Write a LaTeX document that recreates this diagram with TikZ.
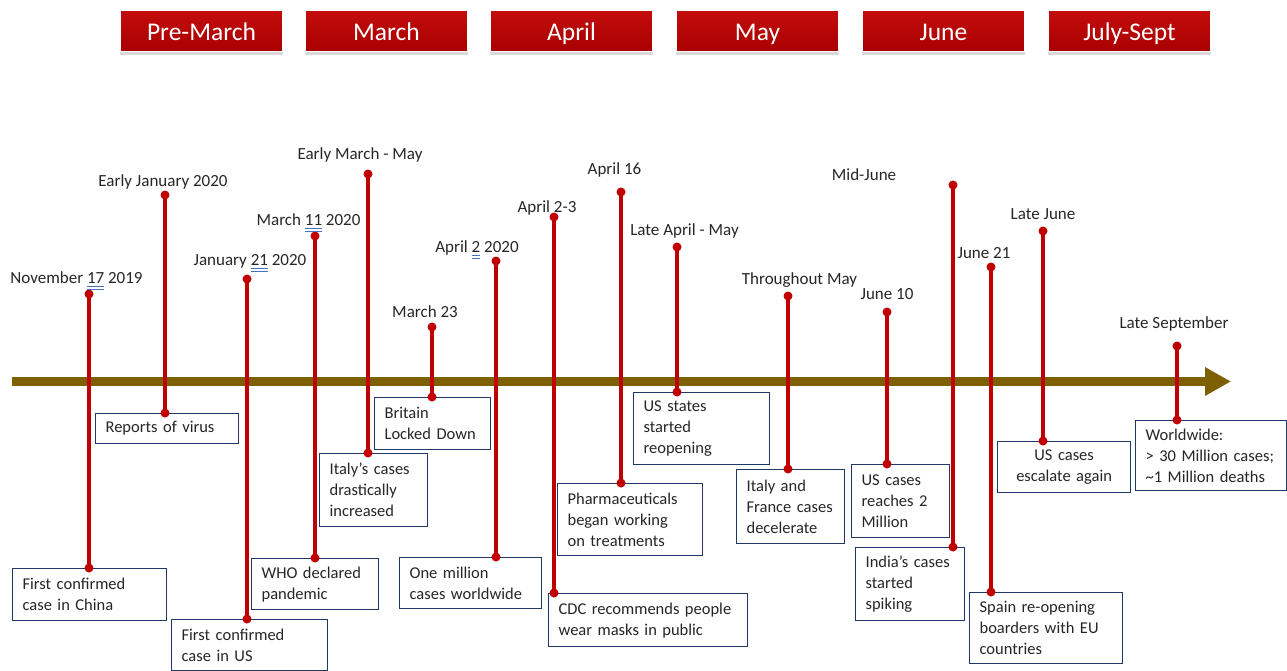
\documentclass[tikz,border=0pt]{standalone}
\usepackage{fontspec}
\setmainfont{Carlito}
\usetikzlibrary{arrows.meta,shadows}

\definecolor{stemred}{HTML}{C00000}
\definecolor{axisbrown}{HTML}{7F6000}
\definecolor{boxblue}{HTML}{203864}
\definecolor{txtgray}{HTML}{262626}
\definecolor{ulblue}{HTML}{4472C4}

% blue double underline under a word
\newsavebox\markbox
\newcommand\spellmark[1]{\sbox\markbox{#1}%
  \rlap{\smash{\color{ulblue}\rule[-3.9pt]{\wd\markbox}{1pt}}}%
  \rlap{\smash{\color{ulblue}\rule[-7.1pt]{\wd\markbox}{1pt}}}%
  \usebox\markbox}

\begin{document}
\begin{tikzpicture}[x=1pt,y=-1pt,
  month/.style={draw=white, line width=1.5pt, top color=stemred!95!white, bottom color=stemred!88!black,
    text=white, font=\fontsize{25.5}{30}\selectfont, minimum width=163pt, minimum height=41pt, inner sep=0pt,
    text height=20pt, text depth=2pt,
    drop shadow={shadow xshift=0pt, shadow yshift=-3pt, opacity=0.3}},
  evbox/.style={draw=boxblue, line width=1.2pt, fill=white, text=txtgray, anchor=north west,
    align=left, inner xsep=10pt, inner ysep=0pt, font=\fontsize{16.5}{21}\selectfont},
  datelabel/.style={text=txtgray, anchor=base, inner sep=0pt, font=\fontsize{17}{20}\selectfont},
  stem/.style={draw=stemred, line width=4pt},
  dot/.style={fill=stemred},
  axisline/.style={draw=axisbrown, line width=9pt, -{Triangle[length=26pt,width=27pt]}}]

\useasboundingbox (0,0) rectangle (1287,670);

% month headers
\node[month] (m1) at (201.5,31) {Pre-March};
\node[month] (m2) at (386.5,31) {March};
\node[month] (m3) at (571.5,31) {April};
\node[month] (m4) at (757.5,31) {May};
\node[month] (m5) at (943.5,31) {June};
\node[month] (m6) at (1129.5,31) {July-Sept};

% time axis
\coordinate (axstart) at (12,381.5);
\coordinate (axend) at (1231,381.5);
\draw[axisline] (axstart) -- (axend);

% event boxes
\node[evbox, minimum width=154pt, minimum height=52pt, text width=134pt] (b1) at (12,568) {First confirmed\\case in China};
\node[evbox, minimum width=143pt, minimum height=30pt, text width=123pt] (b2) at (95,413) {Reports of virus};
\node[evbox, minimum width=156pt, minimum height=51pt, text width=136pt] (b3) at (171,619) {First confirmed\\case in US};
\node[evbox, minimum width=127pt, minimum height=51pt, text width=107pt] (b4) at (251,558) {WHO declared\\pandemic};
\node[evbox, minimum width=108pt, minimum height=73pt, text width=88pt] (b5) at (319,453) {Italy’s cases\\drastically\\increased};
\node[evbox, minimum width=116pt, minimum height=52pt, text width=96pt] (b6) at (374,397) {Britain\\Locked Down};
\node[evbox, minimum width=142pt, minimum height=51pt, text width=122pt] (b7) at (399,557) {One million\\cases worldwide};
\node[evbox, minimum width=199pt, minimum height=53pt, text width=179pt] (b8) at (548,593) {CDC recommends people\\wear masks in public};
\node[evbox, minimum width=145pt, minimum height=72pt, text width=125pt] (b9) at (557,483) {Pharmaceuticals\\began working\\on treatments};
\node[evbox, minimum width=136pt, minimum height=72pt, text width=116pt] (b10) at (633,392) {US states\\started\\reopening};
\node[evbox, minimum width=108pt, minimum height=74pt, text width=88pt] (b11) at (736,469) {Italy and\\France cases\\decelerate};
\node[evbox, minimum width=98pt, minimum height=73pt, text width=78pt] (b12) at (851,464) {US cases\\reaches 2\\Million};
\node[evbox, minimum width=109pt, minimum height=73pt, text width=89pt] (b13) at (855,547) {India’s cases\\started\\spiking};
\node[evbox, minimum width=153pt, minimum height=71pt, text width=133pt] (b14) at (969,592) {Spain re-opening\\boarders with EU\\countries};
\node[evbox, minimum width=133pt, minimum height=51pt, text width=113pt, align=center] (b15) at (997,441) {US cases\\escalate again};
\node[evbox, minimum width=151pt, minimum height=70pt, text width=131pt] (b16) at (1135,420) {Worldwide:\\> 30 Million cases;\\\textasciitilde1 Million deaths};

% stems with dots, from the date marker down to each box
\foreach \i/\x/\y in {1/89/294, 2/165/195, 3/247/279, 4/315/236, 5/368/174, 6/432/327,
                      7/496/261, 8/554/217, 9/621/192, 10/677/247, 11/788/296, 12/887/312,
                      13/953/185, 14/991/267, 15/1043/231, 16/1177/346}{
  \coordinate (t\i) at (\x,\y);
  \coordinate (e\i) at (t\i |- b\i.north);
  \draw[stem] (t\i) -- (e\i);
  \fill[dot] (t\i) circle (4.5pt);
  \fill[dot] (e\i) circle (4.5pt);
}

% date labels
\node[datelabel] (l1) at (76.5,283) {November \spellmark{17} 2019};
\node[datelabel] (l2) at (163,186) {Early January 2020};
\node[datelabel] (l3) at (250,265) {January \spellmark{21} 2020};
\node[datelabel] (l4) at (308.5,225) {March \spellmark{11} 2020};
\node[datelabel] (l5) at (360,159) {Early March - May};
\node[datelabel] (l6) at (425,317) {March 23};
\node[datelabel] (l7) at (477,252) {April \spellmark{2} 2020};
\node[datelabel] (l8) at (547,212) {April 2-3};
\node[datelabel] (l9) at (614.5,174) {April 16};
\node[datelabel] (l10) at (684.5,235) {Late April - May};
\node[datelabel] (l11) at (799.5,284) {Throughout May};
\node[datelabel] (l12) at (887,299) {June 10};
\node[datelabel] (l13) at (864,180) {Mid-June};
\node[datelabel] (l14) at (984,258) {June 21};
\node[datelabel] (l15) at (1043,219) {Late June};
\node[datelabel] (l16) at (1174,328) {Late September};
\end{tikzpicture}
\end{document}
